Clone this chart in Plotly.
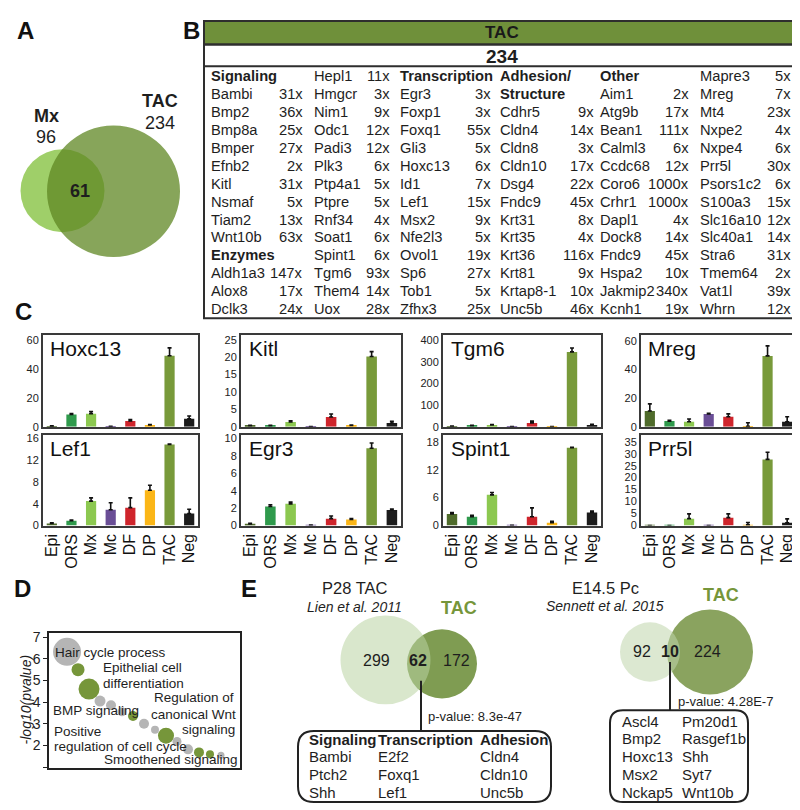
import plotly.graph_objects as go

W, H = 800, 810
FONT = "Liberation Sans, Arial, sans-serif"
INK = "#1e1e1e"


def X(px):
    return px / W


def Y(py):
    return 1 - py / H


# ---------------- DATA ----------------
# Panel A
venn_a_labels = ["Mx", "TAC"]
venn_a_counts = [96, 234]
venn_a_overlap = 61

# Panel B
table_title = "TAC"
table_total = 234
b_headers = ["Signaling", "Enzymes", "Transcription", "Adhesion/", "Structure", "Other"]
b_col1_genes = ["Signaling", "Bambi", "Bmp2", "Bmp8a", "Bmper", "Efnb2", "Kitl", "Nsmaf", "Tiam2", "Wnt10b",
                "Enzymes", "Aldh1a3", "Alox8", "Dclk3"]
b_col1_fold = ["", "31x", "36x", "25x", "27x", "2x", "31x", "5x", "13x", "63x", "", "147x", "17x", "24x"]
b_col2_genes = ["Hepl1", "Hmgcr", "Nim1", "Odc1", "Padi3", "Plk3", "Ptp4a1", "Ptpre", "Rnf34", "Soat1", "Spint1",
                "Tgm6", "Them4", "Uox"]
b_col2_fold = ["11x", "3x", "9x", "12x", "12x", "6x", "5x", "5x", "4x", "6x", "6x", "93x", "14x", "28x"]
b_col3_genes = ["Transcription", "Egr3", "Foxp1", "Foxq1", "Gli3", "Hoxc13", "Id1", "Lef1", "Msx2", "Nfe2l3",
                "Ovol1", "Sp6", "Tob1", "Zfhx3"]
b_col3_fold = ["", "3x", "3x", "55x", "5x", "6x", "7x", "15x", "9x", "5x", "19x", "27x", "5x", "25x"]
b_col4_genes = ["Adhesion/", "Structure", "Cdhr5", "Cldn4", "Cldn8", "Cldn10", "Dsg4", "Fndc9", "Krt31", "Krt35",
                "Krt36", "Krt81", "Krtap8-1", "Unc5b"]
b_col4_fold = ["", "", "9x", "14x", "3x", "17x", "22x", "45x", "8x", "4x", "116x", "9x", "10x", "46x"]
b_col5_genes = ["Other", "Aim1", "Atg9b", "Bean1", "Calml3", "Ccdc68", "Coro6", "Crhr1", "Dapl1", "Dock8", "Fndc9",
                "Hspa2", "Jakmip2", "Kcnh1"]
b_col5_fold = ["", "2x", "17x", "111x", "6x", "12x", "1000x", "1000x", "4x", "14x", "45x", "10x", "340x", "19x"]
b_col6_genes = ["Mapre3", "Mreg", "Mt4", "Nxpe2", "Nxpe4", "Prr5l", "Psors1c2", "S100a3", "Slc16a10", "Slc40a1",
                "Stra6", "Tmem64", "Vat1l", "Whrn"]
b_col6_fold = ["5x", "7x", "23x", "4x", "6x", "30x", "6x", "15x", "12x", "14x", "31x", "2x", "39x", "12x"]

# Panel C
cells = ["Epi", "ORS", "Mx", "Mc", "DF", "DP", "TAC", "Neg"]
cell_colors = ["#4f6b2b", "#2f9a4c", "#8cc850", "#6a4e96", "#cf252c", "#fbb617", "#789a3a", "#1c1c1c"]
c_genes = ["Hoxc13", "Kitl", "Tgm6", "Mreg", "Lef1", "Egr3", "Spint1", "Prr5l"]
hoxc13_mean = [0.5, 8.5, 9.0, 0.3, 4.0, 1.2, 49.0, 5.5]
hoxc13_err = [0.2, 0.6, 1.5, 0.1, 1.0, 0.3, 5.5, 2.0]
kitl_mean = [0.3, 0.3, 1.4, 0.1, 2.8, 0.4, 20.2, 1.1]
kitl_err = [0.1, 0.1, 0.3, 0.0, 0.9, 0.1, 1.4, 0.5]
tgm6_mean = [2, 5, 8, 1, 18, 1, 345, 8]
tgm6_err = [1, 2, 2, 0.5, 8, 0.5, 18, 3]
mreg_mean = [11, 4, 3.5, 9, 7, 0.3, 49.5, 3.5]
mreg_err = [5, 0.5, 2, 0.5, 2, 2.5, 7, 3.5]
lef1_mean = [0.4, 0.9, 4.5, 2.9, 3.3, 6.5, 14.9, 2.2]
lef1_err = [0.1, 0.1, 0.6, 1.3, 1.8, 0.9, 0.1, 0.8]
egr3_mean = [0.2, 2.2, 2.5, 0.05, 0.8, 0.7, 8.9, 1.8]
egr3_err = [0.05, 0.2, 0.2, 0.0, 0.3, 0.1, 0.6, 0.1]
spint1_mean = [2.5, 1.9, 6.6, 0.05, 1.9, 0.6, 16.7, 2.8]
spint1_err = [0.3, 0.3, 0.5, 0.0, 1.9, 0.3, 0.1, 0.3]
prr5l_mean = [0.05, 0.05, 2.9, 0.05, 3.3, 0.3, 27.6, 1.2]
prr5l_err = [0.0, 0.0, 2.0, 0.0, 1.6, 1.0, 3.0, 1.6]
hoxc13_ticks = [0, 20, 40, 60]
kitl_ticks = [0, 5, 10, 15, 20, 25]
tgm6_ticks = [0, 100, 200, 300, 400]
mreg_ticks = [0, 20, 40, 60]
lef1_ticks = [0, 4, 8, 12, 16]
egr3_ticks = [0, 2, 4, 6, 8, 10]
spint1_ticks = [0, 6, 12, 18]
prr5l_ticks = [0, 5, 10, 15, 20, 25, 30, 35]
c_ymax = [63.4, 26.4, 423, 64.1, 16.7, 10.45, 19.5, 37.9]

# Panel D
go_rank = [1, 2, 3, 4, 5, 6, 7, 8, 9, 10, 11, 12, 13, 14, 15]
go_logp = [6.32, 5.5, 4.6, 4.05, 3.86, 3.55, 3.36, 3.0, 2.73, 2.45, 2.18, 1.82, 1.68, 1.59, 1.55]
go_size = [28, 13, 21, 11, 10, 9, 10, 10, 8, 16, 9, 10, 10, 8, 7]
go_highlight = [0, 1, 1, 0, 0, 0, 1, 0, 0, 1, 0, 0, 1, 1, 0]
d_ticks = [1, 2, 3, 4, 5, 6, 7]
d_ticktext = ["", "2", "3", "4", "5", "6", "7"]

# Panel E
e1_title = "P28 TAC"
e1_ref = "Lien et al. 2011"
e1_counts = [299, 62, 172]
e1_pvalue = "p-value: 8.3e-47"
e1_headers = ["Signaling", "Transcription", "Adhesion"]
e1_signaling = ["Bambi", "Ptch2", "Shh"]
e1_transcription = ["E2f2", "Foxq1", "Lef1"]
e1_adhesion = ["Cldn4", "Cldn10", "Unc5b"]
e2_title = "E14.5 Pc"
e2_ref = "Sennett et al. 2015"
e2_counts = [92, 10, 224]
e2_pvalue = "p-value: 4.28E-7"
e2_genes_a = ["Ascl4", "Bmp2", "Hoxc13", "Msx2", "Nckap5"]
e2_genes_b = ["Pm20d1", "Rasgef1b", "Shh", "Syt7", "Wnt10b"]

# ---------------- FIGURE ----------------
fig = go.Figure()
annotations = []
shapes = []


def ann(text, x, y, size, xanchor="center", yanchor="middle", bold=False, italic=False, color=INK, angle=0):
    if bold:
        text = "<b>" + text + "</b>"
    if italic:
        text = "<i>" + text + "</i>"
    annotations.append(dict(text=text, x=X(x), y=Y(y), xref="paper", yref="paper", showarrow=False,
                            xanchor=xanchor, yanchor=yanchor, textangle=angle,
                            font=dict(family=FONT, size=size, color=color)))


def circle(cx, cy, r, fill, opacity=1.0):
    shapes.append(dict(type="circle", xref="paper", yref="paper", x0=X(cx - r), x1=X(cx + r),
                       y0=Y(cy + r), y1=Y(cy - r), fillcolor=fill, opacity=opacity,
                       line=dict(width=0), layer="above"))


def line(x0, y0, x1, y1, color="#222", width=2):
    shapes.append(dict(type="line", xref="paper", yref="paper", x0=X(x0), y0=Y(y0), x1=X(x1), y1=Y(y1),
                       line=dict(color=color, width=width)))


def rect(x0, y0, x1, y1, fill="rgba(0,0,0,0)", color="#333", width=2):
    shapes.append(dict(type="rect", xref="paper", yref="paper", x0=X(x0), y0=Y(y1), x1=X(x1), y1=Y(y0),
                       fillcolor=fill, line=dict(color=color, width=width)))


def rounded(x0, y0, x1, y1, r, color="#222", width=2):
    p = (f"M {X(x0 + r)},{Y(y0)} L {X(x1 - r)},{Y(y0)} Q {X(x1)},{Y(y0)} {X(x1)},{Y(y0 + r)} "
         f"L {X(x1)},{Y(y1 - r)} Q {X(x1)},{Y(y1)} {X(x1 - r)},{Y(y1)} "
         f"L {X(x0 + r)},{Y(y1)} Q {X(x0)},{Y(y1)} {X(x0)},{Y(y1 - r)} "
         f"L {X(x0)},{Y(y0 + r)} Q {X(x0)},{Y(y0)} {X(x0 + r)},{Y(y0)} Z")
    shapes.append(dict(type="path", xref="paper", yref="paper", path=p, line=dict(color=color, width=width)))


# panel letters
for letter, (lx, ly) in zip("ABCDE", [(17, 19), (183, 19), (15, 303), (14, 584), (241, 584)]):
    ann(letter, lx, ly, 24, bold=True, color="#111")

# ---- Panel A ----
circle(54.5, 181, 42, "#9fcf69")
circle(105.5, 181.5, 66.5, "#5f8723", opacity=0.75)
ann(venn_a_labels[0], 38, 105, 18, bold=True)
ann(str(venn_a_counts[0]), 38, 127, 18)
ann(venn_a_labels[1], 152, 90, 18, bold=True)
ann(str(venn_a_counts[1]), 152, 112, 18)
ann(str(venn_a_overlap), 72, 181, 18, bold=True)

# ---- Panel B ----
TL, TR = 196, 792
rect(TL, 9, TR, 33, fill="#6f903a", color="#2e2e2e", width=2)
ann(table_title, (TL + TR) / 2, 21, 17, bold=True, color="#1a1a1a")
rect(TL, 33, TR, 310, color="#2e2e2e", width=2)
line(TL, 55, TR, 55, color="#2e2e2e", width=2)
ann(str(table_total), (TL + TR) / 2, 45, 19, bold=True)
name_x = [201, 304, 390, 490, 590, 690]
fold_x = [297, 384, 485, 588, 683, 785]
columns = [(b_col1_genes, b_col1_fold), (b_col2_genes, b_col2_fold), (b_col3_genes, b_col3_fold),
           (b_col4_genes, b_col4_fold), (b_col5_genes, b_col5_fold), (b_col6_genes, b_col6_fold)]
for ci, (genes, folds) in enumerate(columns):
    for ri, (g, f) in enumerate(zip(genes, folds)):
        yy = 64.5 + 18.2 * ri
        ann(g, name_x[ci], yy, 14.7, xanchor="left", bold=(g in b_headers))
        if f:
            ann(f, fold_x[ci], yy, 14.7, xanchor="right")

# ---- Panel C ----
c_means = [hoxc13_mean, kitl_mean, tgm6_mean, mreg_mean, lef1_mean, egr3_mean, spint1_mean, prr5l_mean]
c_errs = [hoxc13_err, kitl_err, tgm6_err, mreg_err, lef1_err, egr3_err, spint1_err, prr5l_err]
c_ticks = [hoxc13_ticks, kitl_ticks, tgm6_ticks, mreg_ticks, lef1_ticks, egr3_ticks, spint1_ticks, prr5l_ticks]
c_cols = [(35, 190), (233, 393), (435, 593), (633, 788)]
c_rows = [(327, 420), (428, 520)]
axes = {}
for i in range(8):
    r, c = divmod(i, 4)
    k = i + 1
    xn = "x" if k == 1 else f"x{k}"
    yn = "y" if k == 1 else f"y{k}"
    fig.add_trace(go.Bar(x=cells, y=c_means[i], marker=dict(color=cell_colors, line=dict(width=0)), width=0.52,
                         error_y=dict(type="data", symmetric=False, array=c_errs[i], arrayminus=[0] * 8,
                                      color="#111", thickness=1.6, width=2),
                         xaxis=xn, yaxis=yn, showlegend=False, name=c_genes[i]))
    x0, x1 = c_cols[c]
    y0, y1 = c_rows[r]
    axes["xaxis" if k == 1 else f"xaxis{k}"] = dict(
        domain=[X(x0), X(x1)], anchor=yn, type="category", range=[-0.45, 7.45], showline=True, mirror=True,
        linecolor="#3a3a3a", linewidth=2, ticks="", showticklabels=(r == 1), tickangle=-90,
        tickfont=dict(family=FONT, size=16, color="#111"), showgrid=False, zeroline=False)
    axes["yaxis" if k == 1 else f"yaxis{k}"] = dict(
        domain=[Y(y1), Y(y0)], anchor=xn, range=[0, c_ymax[i]], tickvals=c_ticks[i], showline=True,
        mirror=True, linecolor="#3a3a3a", linewidth=2, ticks="", ticklen=0,
        tickfont=dict(family=FONT, size=11, color="#222"), showgrid=False, zeroline=False)
    annotations.append(dict(text=c_genes[i], xref=f"{xn} domain", yref=f"{yn} domain", x=0.035, y=1.0,
                            xanchor="left", yanchor="top", showarrow=False,
                            font=dict(family=FONT, size=21, color="#111")))

# ---- Panel D ----
fig.add_trace(go.Scatter(
    x=go_rank, y=go_logp, mode="markers", xaxis="x9", yaxis="y9", showlegend=False,
    marker=dict(size=go_size, color=["#76963a" if h else "#b5b5b5" for h in go_highlight], line=dict(width=0),
                opacity=1)))
axes["xaxis9"] = dict(domain=[X(41), X(232)], anchor="y9", range=[-0.64, 16.73], showline=True, mirror=True,
                      linecolor="#222", linewidth=1.5, showticklabels=False, ticks="", showgrid=False,
                      zeroline=False)
axes["yaxis9"] = dict(domain=[Y(765), Y(629)], anchor="x9", range=[0.98, 7.18], tickvals=d_ticks,
                      ticktext=d_ticktext, showline=True, mirror=True, linecolor="#222", linewidth=1.5,
                      ticks="outside", ticklen=4, tickcolor="#222",
                      tickfont=dict(family=FONT, size=14, color="#222"), showgrid=False, zeroline=False)
ann("-log10(pvalue)", 18, 696, 14, italic=True, angle=-90)
d_fs = 13.5
ann("Hair cycle process", 45, 649, d_fs, xanchor="left")
ann("Epithelial cell", 93, 664, d_fs, xanchor="left")
ann("differentiation", 93, 680, d_fs, xanchor="left")
ann("BMP signaling", 43, 707, d_fs, xanchor="left")
ann("Regulation of", 228, 694, d_fs, xanchor="right")
ann("canonical Wnt", 230, 711, d_fs, xanchor="right")
ann("signaling", 229, 726, d_fs, xanchor="right")
ann("Positive", 44, 728, d_fs, xanchor="left")
ann("regulation of cell cycle", 44, 744, d_fs, xanchor="left")
ann("Smoothened signaling", 94, 757, d_fs, xanchor="left")

# ---- Panel E (left) ----
ann(e1_title, 347, 583, 16.5)
ann(e1_ref, 346, 602, 14, italic=True)
ann("TAC", 451, 603, 18, bold=True, color="#76963a")
circle(434, 660, 35, "#7f9c52")
circle(377.5, 656, 45, "#b9d3a3", opacity=0.55)
ann(str(e1_counts[0]), 368, 657, 16)
ann(str(e1_counts[1]), 410, 657, 16, bold=True)
ann(str(e1_counts[2]), 448, 657, 16)
line(413, 677, 413, 728)
ann(e1_pvalue, 418, 713, 13, xanchor="left")
rounded(290, 728, 543, 800, 16)
for hx, htxt, col in zip([299, 368, 470], e1_headers, [e1_signaling, e1_transcription, e1_adhesion]):
    ann(htxt, hx, 737, 15, xanchor="left", bold=True)
    for ri, g in enumerate(col):
        ann(g, hx, 754 + 18 * ri, 15, xanchor="left")

# ---- Panel E (right) ----
ann(e2_title, 597, 583, 16.5)
ann(e2_ref, 597, 601, 14, italic=True)
ann("TAC", 713, 590, 18, bold=True, color="#76963a")
circle(702, 648, 43, "#8aa35f")
circle(642, 648, 30, "#c0d6ab", opacity=0.55)
ann(str(e2_counts[0]), 634, 647, 16)
ann(str(e2_counts[1]), 662, 647, 16, bold=True)
ann(str(e2_counts[2]), 699, 647, 16)
line(662, 658, 662, 707)
ann(e2_pvalue, 668, 698, 13, xanchor="left")
rounded(602, 707, 740, 800, 13)
for ri, (ga, gb) in enumerate(zip(e2_genes_a, e2_genes_b)):
    ann(ga, 612, 718 + 18 * ri, 15, xanchor="left")
    ann(gb, 672, 718 + 18 * ri, 15, xanchor="left")

fig.update_layout(width=W, height=H, margin=dict(l=0, r=0, t=0, b=0), paper_bgcolor="white",
                  plot_bgcolor="white", font=dict(family=FONT, color=INK), annotations=annotations,
                  shapes=shapes, showlegend=False, bargap=0.4, **axes)
fig.write_html("out.html")
